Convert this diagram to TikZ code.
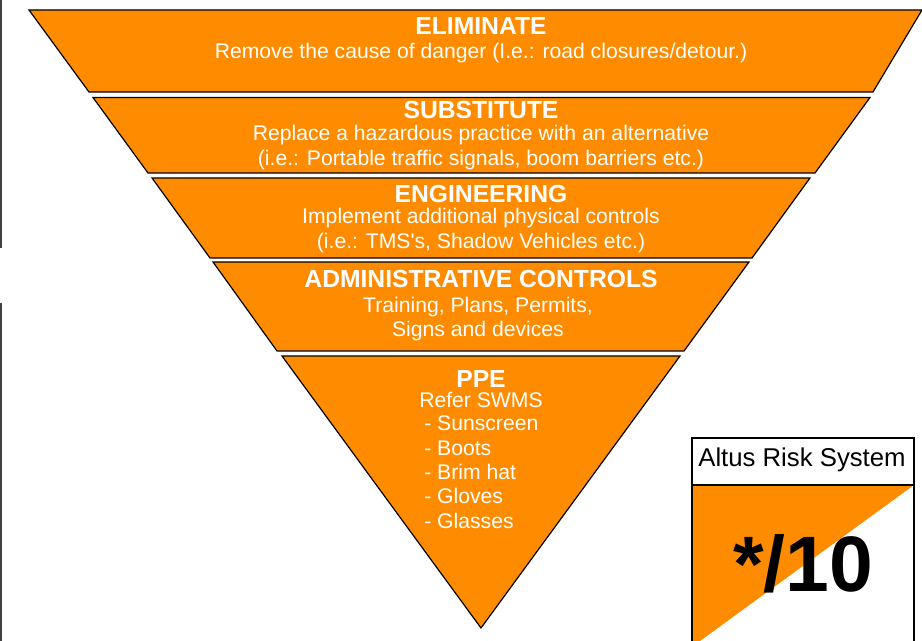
\documentclass[tikz,border=0pt]{standalone}
\usepackage{fontspec}
\setmainfont{Liberation Sans}
\tikzset{
  x=0.75pt,y=-0.75pt,
  band/.style={fill=orangeF,draw=black,line width=0.9pt,line join=miter},
  head/.style={text=white,font=\fontsize{18.5}{18.5}\selectfont\bfseries,inner sep=0pt,anchor=center},
  body/.style={text=white,font=\fontsize{15.87}{15.87}\selectfont,inner sep=0pt,anchor=center},
  edgeline/.style={draw=black!75,line width=1.5pt}
}
\definecolor{orangeF}{RGB}{255,140,0}
\begin{document}
\begin{tikzpicture}
\useasboundingbox (0,0) rectangle (922,641);
\clip (0,0) rectangle (922,641);
\draw[edgeline] (0.5,0) -- (0.5,248);
\draw[edgeline] (0.5,303) -- (0.5,641);
\filldraw[band] (29,10) -- (922,10) -- (873,92) -- (89,92) -- cycle;
\filldraw[band] (93,97.5) -- (870,97.5) -- (815,173) -- (148,173) -- cycle;
\filldraw[band] (152,178) -- (810,178) -- (752,258) -- (210,258) -- cycle;
\filldraw[band] (213,262) -- (749,262) -- (684,351) -- (277,351) -- cycle;
\filldraw[band] (282,356) -- (680,356) -- (481,628) -- cycle;
\node[head] (t1) at (481,26) {ELIMINATE};
\node[body] (b1) at (481,53) {Remove the cause of danger (I.e.: road closures/detour.)};
\node[head] (t2) at (481,110) {SUBSTITUTE};
\node[body] (b2) at (481,135) {Replace a hazardous practice with an alternative};
\node[body] (c2) at (481,160) {(i.e.: Portable traffic signals, boom barriers etc.)};
\node[head] (t3) at (481,194) {ENGINEERING};
\node[body] (b3) at (481,218) {Implement additional physical controls};
\node[body] (c3) at (481,243) {(i.e.: TMS\textquotesingle s, Shadow Vehicles etc.)};
\node[head] (t4) at (481,279) {ADMINISTRATIVE CONTROLS};
\node[body] (b4) at (478,307) {Training, Plans, Permits,};
\node[body] (c4) at (478,331) {Signs and devices};
\node[head] (t5) at (481,379) {PPE};
\node[body] (b5) at (481,400) {Refer SWMS};
\node[body,anchor=west] (l1) at (424,423) {- Sunscreen};
\node[body,anchor=west] (l2) at (424,448) {- Boots};
\node[body,anchor=west] (l3) at (424,472) {- Brim hat};
\node[body,anchor=west] (l4) at (424,496) {- Gloves};
\node[body,anchor=west] (l5) at (424,521) {- Glasses};
\fill[orangeF] (692,485) -- (914,485) -- (700,641) -- (692,641) -- cycle;
\draw[black,line width=0.9pt] (692,641) -- (692,438) -- (914,438) -- (914,641);
\draw[black,line width=0.9pt] (692,485) -- (914,485);
\node[inner sep=0pt,font=\fontsize{19.3}{19.3}\selectfont] (ars) at (802,460) {Altus Risk System};
\node[inner sep=0pt,font=\fontsize{59}{59}\selectfont\bfseries] (score) at (803,564) {*/10};
\end{tikzpicture}
\end{document}
